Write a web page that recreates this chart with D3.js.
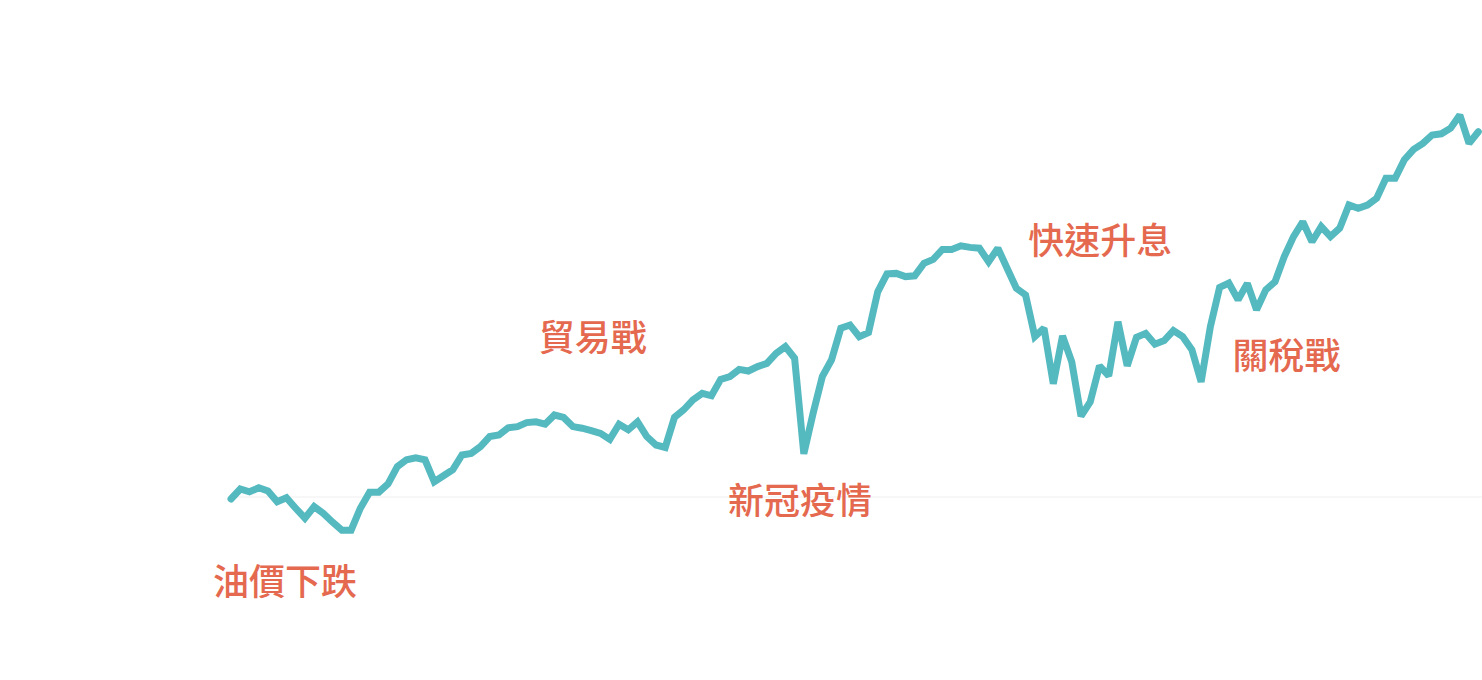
<!DOCTYPE html>
<html>
<head>
<meta charset="utf-8">
<script src="https://cdn.jsdelivr.net/npm/d3@7"></script>
<style>
  html, body { margin: 0; padding: 0; background: #ffffff; }
  svg { display: block; }
</style>
</head>
<body>
<svg id="chart" width="1482" height="680"></svg>
<script>
// Monthly cumulative return (%), Jan 2015 onward
const values = [
  -0.5, 2.0, 1.3, 2.3, 1.5, -1.2, -0.2, -2.8, -5.3, -2.4,
  -4.1, -6.3, -8.3, -8.3, -2.8, 1.2, 1.2, 3.3, 7.6, 9.3,
  9.8, 9.3, 3.8, 5.3, 6.8, 10.5, 10.9, 12.6, 15.1, 15.5,
  17.3, 17.6, 18.6, 18.8, 18.2, 20.5, 19.9, 17.6, 17.2, 16.6,
  15.9, 14.4, 18.2, 16.8, 18.8, 15.1, 13.0, 12.4, 19.9, 21.8,
  24.3, 25.9, 25.3, 29.4, 30.1, 31.9, 31.5, 32.6, 33.4, 35.9,
  37.6, 34.7, 10.8, 20.9, 30.1, 34.3, 42.2, 43.0, 40.1, 41.1,
  51.3, 55.8, 55.9, 55.1, 55.3, 58.4, 59.4, 61.9, 61.9, 62.8,
  62.4, 62.2, 58.8, 62.2, 57.2, 52.2, 50.5, 40.1, 42.2, 28.3,
  40.3, 33.8, 20.2, 23.8, 32.8, 30.3, 43.8, 32.8, 39.9, 40.9,
  38.2, 39.1, 41.6, 40.1, 36.8, 28.8, 42.6, 52.4, 53.5, 49.3,
  53.4, 46.8, 51.8, 53.8, 60.1, 65.1, 68.8, 63.8, 67.6, 65.1,
  67.2, 73.0, 72.2, 73.0, 74.7, 79.7, 79.7, 84.3, 86.9, 88.4,
  90.5, 90.8, 92.2, 95.5, 88.4, 91.3
];

// Annotation labels (event names) and their anchor in data coordinates
const labelTexts = ["油價下跌", "貿易戰", "新冠疫情", "快速升息", "關稅戰"];
const labelIndex = [-1.95, 33.3, 53.8, 86.3, 108.4];
const labelValue = [-20.5, 40.6, -0.2, 64.8, 36.0];

const baselineValue = 0;

const svg = d3.select("#chart");

const x = d3.scaleLinear()
  .domain([0, values.length - 1])
  .range([231, 1478.3]);

const y = d3.scaleLinear()
  .domain([0, 100])
  .range([497, 97]);

// faint baseline
svg.append("line")
  .attr("x1", x(0))
  .attr("x2", 1482)
  .attr("y1", y(baselineValue))
  .attr("y2", y(baselineValue))
  .attr("stroke", "#f4f4f4")
  .attr("stroke-width", 1.5);

// main line
const line = d3.line()
  .x((d, i) => x(i))
  .y(d => y(d));

svg.append("path")
  .datum(values)
  .attr("d", line)
  .attr("fill", "none")
  .attr("stroke", "#55b9c0")
  .attr("stroke-width", 7)
  .attr("stroke-linejoin", "miter")
  .attr("stroke-miterlimit", 2)
  .attr("stroke-linecap", "round");

// labels
svg.selectAll("text.label")
  .data(labelTexts)
  .join("text")
  .attr("class", "label")
  .attr("x", (d, i) => x(labelIndex[i]))
  .attr("y", (d, i) => y(labelValue[i]))
  .attr("dominant-baseline", "central")
  .attr("font-family", "'Noto Sans CJK TC', 'Noto Sans CJK SC', sans-serif")
  .attr("font-size", 36)
  .attr("font-weight", 500)
  .attr("fill", "#e4694f")
  .text(d => d);
</script>
</body>
</html>
